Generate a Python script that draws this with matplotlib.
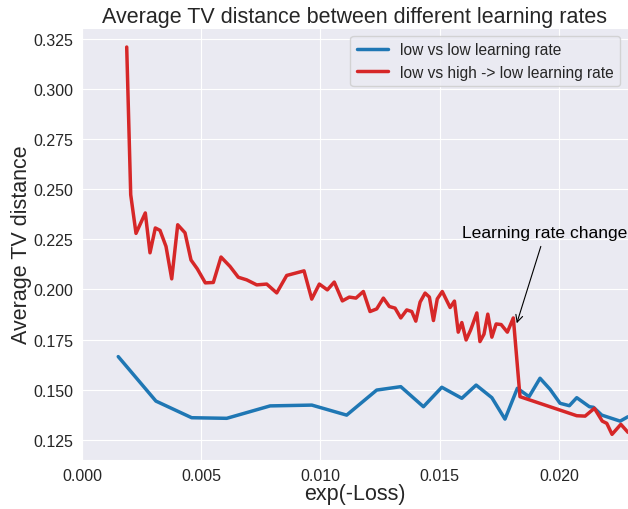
import matplotlib
matplotlib.use("Agg")
import matplotlib.pyplot as plt
import seaborn as sns

# exp(-Loss) values and average TV distances
low_low_x = [0.00152, 0.00310, 0.00460, 0.00607, 0.00789, 0.00964, 0.01110,
             0.01236, 0.01337, 0.01432, 0.01509, 0.01593, 0.01653, 0.01719,
             0.01774, 0.01826, 0.01875, 0.01921, 0.01963, 0.02005, 0.02044,
             0.02075, 0.02128, 0.02145, 0.02180, 0.02257, 0.02290]
low_low_y = [0.1665, 0.1443, 0.1360, 0.1357, 0.1419, 0.1423, 0.1373,
             0.1498, 0.1515, 0.1415, 0.1512, 0.1457, 0.1523, 0.1460,
             0.1353, 0.1507, 0.1465, 0.1557, 0.1502, 0.1432, 0.1420,
             0.1460, 0.1415, 0.1412, 0.1373, 0.1343, 0.1365]

low_high_x = [0.001875, 0.002043, 0.002265, 0.002655, 0.002852, 0.003075, 0.003272,
              0.003523, 0.003763, 0.004014, 0.004320, 0.004572, 0.004836, 0.005172,
              0.005508, 0.005830, 0.006208, 0.006556, 0.006909, 0.007328, 0.007747,
              0.008167, 0.008586, 0.009312, 0.009635, 0.009954, 0.01029, 0.01058,
              0.01092, 0.01121, 0.01149, 0.01180, 0.01208, 0.01236, 0.01264,
              0.01289, 0.01313, 0.01337, 0.01362, 0.01383, 0.01400, 0.01418,
              0.01439, 0.01457, 0.01474, 0.01490, 0.01511, 0.01544, 0.01562,
              0.01578, 0.01593, 0.01611, 0.01630, 0.01656, 0.01669, 0.01686,
              0.01702, 0.01719, 0.01737, 0.01758, 0.01784, 0.01809, 0.01837,
              0.02075, 0.02110, 0.02149, 0.02182, 0.02201, 0.02223, 0.02260, 0.02290]
low_high_y = [0.3210, 0.2473, 0.2280, 0.2382, 0.2183, 0.2307, 0.2295,
              0.2215, 0.2053, 0.2323, 0.2283, 0.2147, 0.2103, 0.2033,
              0.2035, 0.2162, 0.2115, 0.2061, 0.2048, 0.2023, 0.2027,
              0.1983, 0.2070, 0.2093, 0.1952, 0.2027, 0.1998, 0.2037,
              0.1943, 0.1962, 0.1957, 0.1990, 0.1890, 0.1903, 0.1957,
              0.1915, 0.1907, 0.1858, 0.1898, 0.1890, 0.1842, 0.1937,
              0.1982, 0.1962, 0.1845, 0.1953, 0.1990, 0.1910, 0.1942,
              0.1787, 0.1835, 0.1748, 0.1798, 0.1883, 0.1740, 0.1777,
              0.1877, 0.1762, 0.1828, 0.1825, 0.1787, 0.1858, 0.1465,
              0.1370, 0.1368, 0.1407, 0.1343, 0.1332, 0.1277, 0.1327, 0.1287]

series_labels = ["low vs low learning rate", "low vs high -> low learning rate"]
y_ticks = [0.125, 0.150, 0.175, 0.200, 0.225, 0.250, 0.275, 0.300, 0.325]
x_ticks = [0.000, 0.005, 0.010, 0.015, 0.020]
annotation_text = "Learning rate change"
annotation_point = (0.0182, 0.1818)
annotation_text_pos = (0.01942, 0.2282)

sns.set_style("darkgrid")
plt.rcParams["font.family"] = ["Liberation Sans", "DejaVu Sans"]
plt.rcParams["text.color"] = "0.15"

fig = plt.figure(figsize=(6.28, 5.10), dpi=100)
ax = fig.add_axes([82 / 628, 49 / 510, 546 / 628, 432 / 510])

ax.plot(low_low_x, low_low_y, color="#1f77b4", lw=2.5, label=series_labels[0])
ax.plot(low_high_x, low_high_y, color="#d62728", lw=2.5, label=series_labels[1])

ax.annotate(annotation_text, xy=annotation_point, xytext=annotation_text_pos,
            ha="center", va="center", fontsize=12.6, color="black",
            arrowprops=dict(arrowstyle="->", color="black", lw=0.8))

ax.set_xlim(0, 0.0229)
ax.set_ylim(0.1149, 0.3305)
ax.set_xticks(x_ticks)
ax.set_yticks(y_ticks)
ax.tick_params(axis="x", labelsize=11.5, colors="0.15", pad=2.5)
ax.tick_params(axis="y", labelsize=11.5, colors="0.15", pad=3)

ax.set_title("Average TV distance between different learning rates", fontsize=15.5,
             color="0.15", pad=4.5)
ax.set_xlabel("exp(-Loss)", fontsize=15.5, color="0.15", labelpad=0)
ax.set_ylabel("Average TV distance", fontsize=15.5, color="0.15", labelpad=0.5)

leg = ax.legend(loc="upper right", fontsize=11.2, frameon=True)

fig.savefig("out.png", dpi=100)
